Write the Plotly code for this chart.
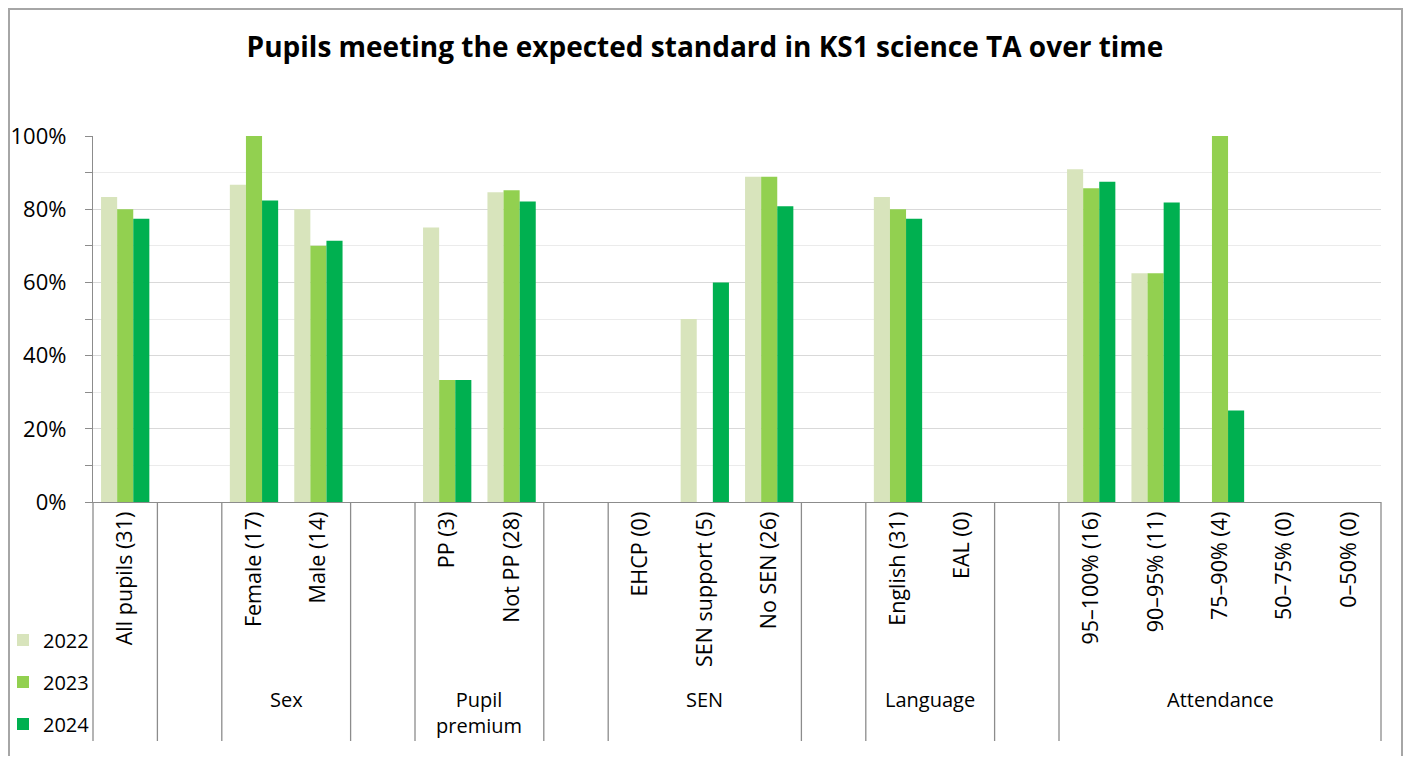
import plotly.graph_objects as go

# Pupil groups, counts in brackets (as shown on the chart)
categories = ["All pupils (31)", "Female (17)", "Male (14)", "PP (3)", "Not PP (28)",
              "EHCP (0)", "SEN support (5)", "No SEN (26)", "English (31)", "EAL (0)",
              "95–100% (16)", "90–95% (11)", "75–90% (4)", "50–75% (0)", "0–50% (0)"]
groups = ["", "Sex", "Sex", "Pupil<br>premium", "Pupil<br>premium",
          "SEN", "SEN", "SEN", "Language", "Language",
          "Attendance", "Attendance", "Attendance", "Attendance", "Attendance"]

years = ["2022", "2023", "2024"]
pct_2022 = [83.3, 86.7, 80.0, 75.0, 84.6, None, 50.0, 88.9, 83.3, None, 90.9, 62.5, None, None, None]
pct_2023 = [80.0, 100.0, 70.0, 33.3, 85.2, None, None, 88.9, 80.0, None, 85.7, 62.5, 100.0, None, None]
pct_2024 = [77.4, 82.4, 71.4, 33.3, 82.1, None, 60.0, 80.8, 77.4, None, 87.5, 81.8, 25.0, None, None]
colours = ["#D8E4BC", "#92D050", "#00B050"]

FONT = "Open Sans"
AXIS_GREY = "#8C8C8C"

# page body has an 8px margin, so the figure is sized to fit inside the window
W, H = 1395, 748
PLOT_L, PLOT_T, PLOT_W, PLOT_H = 85, 128, 1288, 366


def px_x(x):  # page x -> paper x
    return (x - 8 - PLOT_L) / PLOT_W


def px_y(y):  # page y -> paper y
    return (PLOT_T + PLOT_H - (y - 8)) / PLOT_H


# category order with an empty slot between groups (Excel style)
order = []
group_spans = {}
gap_n = 0
prev = None
for cat, grp in zip(categories, groups):
    if prev is not None and grp != prev:
        gap_n += 1
        order.append(" " * gap_n)
    group_spans.setdefault(grp, []).append(len(order))
    order.append(cat)
    prev = grp
n_slots = len(order)

fig = go.Figure()
for i, (yr, vals) in enumerate(zip(years, [pct_2022, pct_2023, pct_2024])):
    fig.add_trace(go.Bar(
        x=categories,
        y=[v / 100 if v is not None else None for v in vals],
        name=yr,
        marker=dict(color=colours[i], line=dict(width=0)),
        legend="legend" if i == 0 else f"legend{i + 1}",
        hovertemplate="%{x}<br>" + yr + ": %{y:.1%}<extra></extra>",
    ))

shapes = []
# outer chart border
shapes.append(dict(type="rect", xref="paper", yref="paper",
                   x0=px_x(9), x1=px_x(1402), y0=px_y(770), y1=px_y(9),
                   line=dict(color="#A6A6A6", width=2), layer="below"))

# vertical separators under the axis: around each group and each gap slot
boundaries = set([0, n_slots])
for grp, idx in group_spans.items():
    boundaries.add(idx[0])
    boundaries.add(idx[-1] + 1)
for b in sorted(boundaries):
    shapes.append(dict(type="line", xref="paper", yref="paper",
                       x0=b / n_slots, x1=b / n_slots,
                       y0=0, y1=px_y(741),
                       line=dict(color=AXIS_GREY, width=1.3)))

annotations = []
for grp, idx in group_spans.items():
    if not grp:
        continue
    annotations.append(dict(
        x=(idx[0] + idx[-1]) / 2, xref="x",
        y=px_y(684), yref="paper", yanchor="top",
        text=grp, showarrow=False,
        font=dict(family=FONT, size=20, color="#000000"),
    ))

legend_y = [640, 682, 724]
legends = {}
for i, py in enumerate(legend_y):
    key = "legend" if i == 0 else f"legend{i + 1}"
    legends[key] = dict(
        x=px_x(3), xanchor="left",
        y=px_y(py), yanchor="middle",
        bgcolor="rgba(0,0,0,0)", borderwidth=0,
        font=dict(family=FONT, size=20, color="#000000"),
        itemwidth=30,
    )

fig.update_layout(
    width=W, height=H,
    margin=dict(l=PLOT_L, r=W - PLOT_L - PLOT_W, t=PLOT_T, b=H - PLOT_T - PLOT_H,
                autoexpand=False),
    paper_bgcolor="white", plot_bgcolor="white",
    font=dict(family=FONT, size=20, color="#000000"),
    title=dict(text="<b>Pupils meeting the expected standard in KS1 science TA over time</b>",
               x=(705 - 8) / W, xref="container", xanchor="center",
               y=1 - (47 - 8) / H, yref="container", yanchor="middle",
               font=dict(family=FONT, size=28, color="#000000")),
    barmode="group", bargap=0.25, bargroupgap=0,
    shapes=shapes, annotations=annotations,
    showlegend=True,
    **legends,
)

fig.update_xaxes(
    type="category", categoryorder="array", categoryarray=order,
    range=[-0.5, n_slots - 0.5], automargin=False,
    tickangle=-90, ticks="", showgrid=False,
    showline=True, linecolor=AXIS_GREY, linewidth=1.3,
    tickfont=dict(family=FONT, size=21.5, color="#000000"),
)
fig.update_yaxes(
    range=[0, 1], tickformat=".0%", dtick=0.2, automargin=False,
    ticks="outside", ticklen=7, tickcolor=AXIS_GREY, tickwidth=1.3,
    ticklabelstandoff=14,
    showline=True, linecolor=AXIS_GREY, linewidth=1.3,
    showgrid=True, gridcolor="#D9D9D9", gridwidth=1.3,
    zeroline=False,
    minor=dict(dtick=0.1, showgrid=True, gridcolor="#EBEBEB", gridwidth=1.3,
               ticks="outside", ticklen=7, tickcolor=AXIS_GREY),
    tickfont=dict(family=FONT, size=22, color="#000000"),
)

fig.write_html("out.html")
